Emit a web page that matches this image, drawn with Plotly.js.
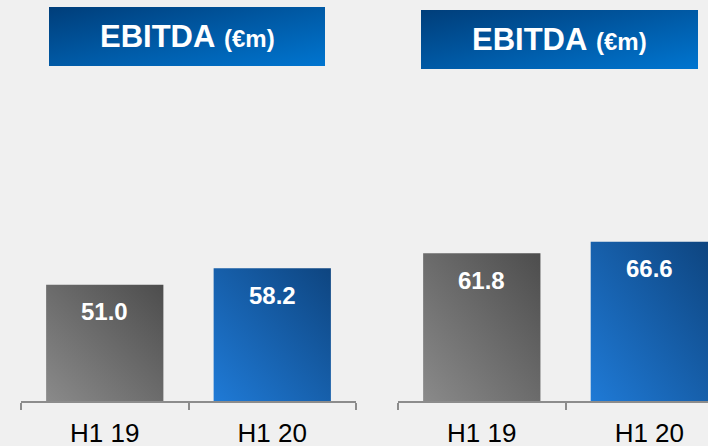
<!DOCTYPE html>
<html>
<head>
<meta charset="utf-8">
<script src="https://cdn.plot.ly/plotly-3.0.1.min.js"></script>
<style>
  html, body { margin: 0; padding: 0; background: #f0f0f0; overflow: hidden; }
  #chart { width: 708px; height: 446px; }
</style>
</head>
<body>
<div id="chart"></div>
<script>
// ---- data ----
const categories = ['H1 19', 'H1 20'];
const ebitdaLeft = [51.0, 58.2];
const ebitdaRight = [61.8, 66.6];
const panelTitle = 'EBITDA';
const panelUnit = '(€m)';

// ---- styles ----
const FONT = 'Liberation Sans, Arial, sans-serif';
const BG = '#f0f0f0';
const AXIS_COLOR = '#8c8c8c';
const barSolid = ['#6e6e6e', '#1a5fae'];

const W = 708, H = 446;

function xAxis(domain, range) {
  return {
    domain: domain, range: range, type: 'category',
    showline: true, linecolor: AXIS_COLOR, linewidth: 2,
    ticks: 'outside', tickson: 'boundaries', ticklen: 7, tickwidth: 2, tickcolor: AXIS_COLOR,
    ticklabelstandoff: 8,
    tickfont: { family: FONT, size: 26, color: '#000000' },
    showgrid: false, zeroline: false, fixedrange: true
  };
}
function yAxis(domain, range) {
  return { domain: domain, range: range, visible: false, showgrid: false, zeroline: false, fixedrange: true };
}

const traces = [
  { type: 'bar', x: categories, y: ebitdaLeft, xaxis: 'x', yaxis: 'y', width: 0.7,
    marker: { color: barSolid, line: { width: 0 } }, hoverinfo: 'none', showlegend: false },
  { type: 'bar', x: categories, y: ebitdaRight, xaxis: 'x2', yaxis: 'y2', width: 0.7,
    marker: { color: barSolid, line: { width: 0 } }, hoverinfo: 'none', showlegend: false }
];

function valueLabels(vals, xref, yref) {
  return vals.map((v, i) => ({
    x: categories[i], y: v, xref: xref, yref: yref,
    text: '<b>' + v.toFixed(1) + '</b>', showarrow: false,
    yanchor: 'middle', xanchor: 'center', yshift: -27,
    font: { family: FONT, size: 24, color: '#ffffff' }
  }));
}

const headerText = '<b>' + panelTitle + '</b> <b><span style="font-size:24px">' + panelUnit + '</span></b>';
const headers = [
  { x0: 49, x1: 325, y0: 7, y1: 66 },
  { x0: 421, x1: 698, y0: 10, y1: 69 }
];

const layout = {
  width: W, height: H,
  margin: { l: 0, r: 0, t: 0, b: 0, pad: 0 },
  paper_bgcolor: BG, plot_bgcolor: BG,
  showlegend: false,
  xaxis: xAxis([21 / W, 356 / W], [-0.5, 1.5]),
  yaxis: yAxis([45 / H, 1], [0, 401 / 2.28]),
  xaxis2: xAxis([398 / W, 1], [-0.5, 1.35]),
  yaxis2: yAxis([44 / H, 1], [0, 402 / 2.406]),
  shapes: headers.map(h => ({
    type: 'rect', xref: 'paper', yref: 'paper', layer: 'above',
    x0: h.x0 / W, x1: h.x1 / W, y0: 1 - h.y1 / H, y1: 1 - h.y0 / H,
    fillcolor: '#0058a0', line: { width: 0 }
  })),
  annotations: [
    ...headers.map(h => ({
      xref: 'paper', yref: 'paper', x: (h.x0 + h.x1) / 2 / W, y: 1 - (h.y0 + h.y1) / 2 / H,
      xanchor: 'center', yanchor: 'middle', showarrow: false,
      text: headerText, font: { family: FONT, size: 31, color: '#ffffff' }
    })),
    ...valueLabels(ebitdaLeft, 'x', 'y'),
    ...valueLabels(ebitdaRight, 'x2', 'y2')
  ]
};

function addGradient(defs, id, x1, y1, x2, y2, stops) {
  const ns = 'http://www.w3.org/2000/svg';
  const g = document.createElementNS(ns, 'linearGradient');
  g.setAttribute('id', id);
  g.setAttribute('x1', x1); g.setAttribute('y1', y1);
  g.setAttribute('x2', x2); g.setAttribute('y2', y2);
  stops.forEach(s => {
    const st = document.createElementNS(ns, 'stop');
    st.setAttribute('offset', s[0]);
    st.setAttribute('stop-color', s[1]);
    g.appendChild(st);
  });
  defs.appendChild(g);
}

const gd = document.getElementById('chart');
Plotly.newPlot(gd, traces, layout, { staticPlot: true, displayModeBar: false }).then(() => {
  const svg = gd.querySelector('svg.main-svg');
  let defs = svg.querySelector('defs');
  if (!defs) { defs = document.createElementNS('http://www.w3.org/2000/svg', 'defs'); svg.insertBefore(defs, svg.firstChild); }
  addGradient(defs, 'gradGray', 0, 1, 1, 0, [[0, '#8a8a8a'], [1, '#4d4d4d']]);
  addGradient(defs, 'gradBlue', 0, 1, 1, 0, [[0, '#1f7ad6'], [1, '#0e4580']]);
  addGradient(defs, 'gradHead', 0, 0, 1, 1, [[0, '#003e7a'], [1, '#0075d0']]);
  const grads = ['url(#gradGray)', 'url(#gradBlue)'];
  gd.querySelectorAll('.barlayer .trace').forEach(tr => {
    tr.querySelectorAll('.point path').forEach((p, i) => { p.style.fill = grads[i % 2]; });
  });
  gd.querySelectorAll('.shapelayer path').forEach(p => { p.style.fill = 'url(#gradHead)'; p.style.fillOpacity = 1; });
});
</script>
</body>
</html>
